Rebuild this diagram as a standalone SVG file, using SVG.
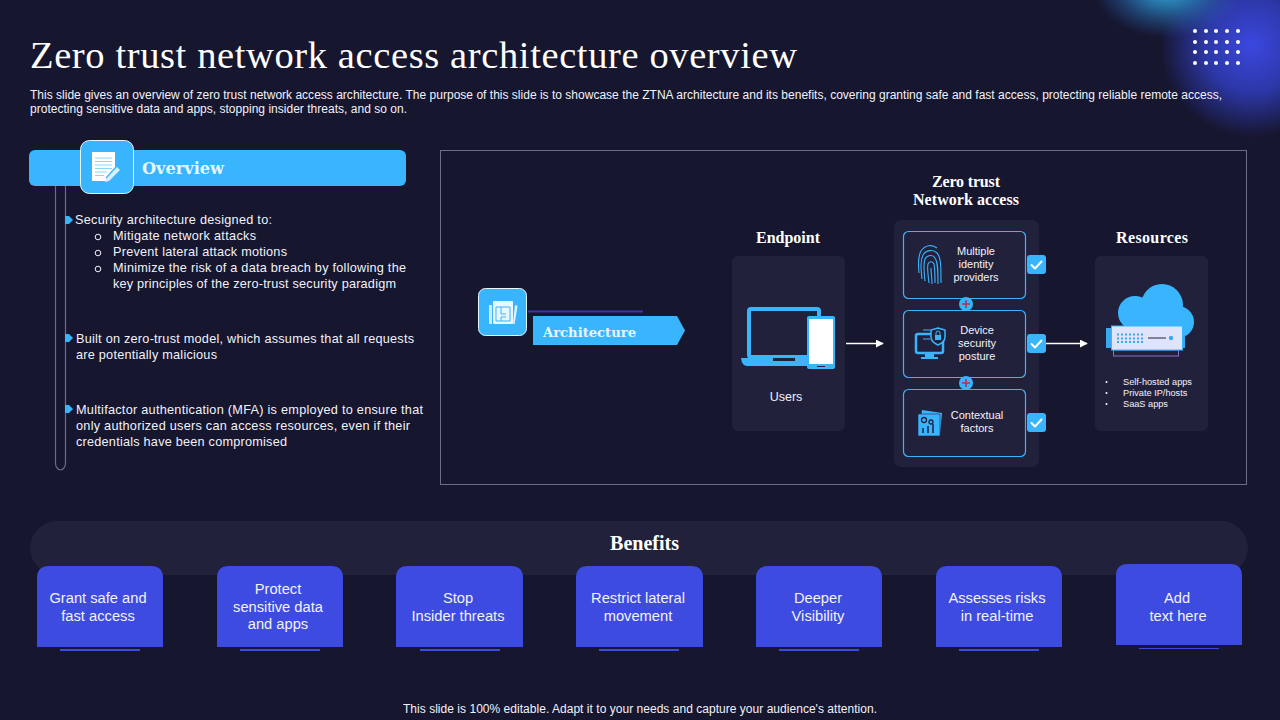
<svg xmlns="http://www.w3.org/2000/svg" width="1280" height="720" viewBox="0 0 1280 720">
<style>
text{font-family:"Liberation Sans",Arial,sans-serif;fill:#f2f2fa}
.serif{font-family:"Liberation Serif","Noto Serif",serif}
.dv{font-family:"DejaVu Serif",serif;font-weight:700}
.h{font-family:"Liberation Serif",serif;font-weight:700;font-size:16px;text-anchor:middle;fill:#fff}
.b{font-size:12.7px}
.m{font-size:11px;text-anchor:middle}
.s{font-size:9.2px}
.ben{font-size:14.7px;text-anchor:middle}
.panel{fill:#22213c}
.inner{fill:#22213c;stroke:#3cb4fb;stroke-width:1.2}
.blue{fill:#39b5fe}
.card{fill:#3e4be0}
.ul{fill:#3e4be0}
.wh{fill:#fff}
.dot{fill:#fff}
.ln{stroke:#fff;stroke-width:1.3;fill:none}
.ck{fill:none;stroke:#fff;stroke-width:2;stroke-linecap:round;stroke-linejoin:round}
</style>
<defs>
<radialGradient id="g1"><stop offset="0" stop-color="#3b48e0"/><stop offset=".5" stop-color="#3340c8" stop-opacity=".8"/><stop offset="1" stop-color="#3340c8" stop-opacity="0"/></radialGradient>
<radialGradient id="g2"><stop offset="0" stop-color="#34b4e8"/><stop offset=".4" stop-color="#2a86c0" stop-opacity=".75"/><stop offset="1" stop-color="#2a5cb0" stop-opacity="0"/></radialGradient>
<marker id="arr" viewBox="0 0 10 10" refX="9" refY="5" markerWidth="8" markerHeight="8" markerUnits="userSpaceOnUse" orient="auto"><path d="M0 0L10 5L0 10z" fill="#fff"/></marker>
<g id="check"><rect x="-9.500" y="-9.500" width="19" height="19" rx="3" class="blue"/><path class="ck" d="M-5 0.500L-1.500 4L5 -3"/></g>
<g id="plus"><circle r="7" class="blue"/><path d="M-4 0H4M0 -4V4" stroke="#b8304f" stroke-width="1.600"/></g>
</defs>
<rect width="1280" height="720" fill="#16162f"/>
<g id="glow">
<ellipse cx="1252" cy="45" rx="92" ry="92" fill="url(#g1)"/>
<ellipse cx="1168" cy="-12" rx="75" ry="50" fill="url(#g2)"/>
</g>
<g id="dots" class="dot">
<circle cx="1195" cy="31" r="2"/><circle cx="1206" cy="31" r="2"/><circle cx="1216" cy="31" r="2"/><circle cx="1227" cy="31" r="2"/><circle cx="1238" cy="31" r="2"/>
<circle cx="1195" cy="42" r="2"/><circle cx="1206" cy="42" r="2"/><circle cx="1216" cy="42" r="2"/><circle cx="1227" cy="42" r="2"/><circle cx="1238" cy="42" r="2"/>
<circle cx="1195" cy="52" r="2"/><circle cx="1206" cy="52" r="2"/><circle cx="1216" cy="52" r="2"/><circle cx="1227" cy="52" r="2"/><circle cx="1238" cy="52" r="2"/>
<circle cx="1195" cy="63" r="2"/><circle cx="1206" cy="63" r="2"/><circle cx="1216" cy="63" r="2"/><circle cx="1227" cy="63" r="2"/><circle cx="1238" cy="63" r="2"/>
</g>
<g id="title">
<text class="serif" x="30" y="68" font-size="38.500" textLength="767" lengthAdjust="spacing" style="fill:#fff">Zero trust network access architecture overview</text>
<text x="30" y="99" font-size="12" textLength="1192" lengthAdjust="spacing">This slide gives an overview of zero trust network access architecture. The purpose of this slide is to showcase the ZTNA architecture and its benefits, covering granting safe and fast access, protecting reliable remote access,</text>
<text x="30" y="113" font-size="12" textLength="377" lengthAdjust="spacing">protecting sensitive data and apps, stopping insider threats, and so on.</text>
</g>
<g id="overview">
<path d="M55.500 180V463a5 7 0 0 0 5 7h0a5 7 0 0 0 5-7V180" fill="none" stroke="#6c6c86" stroke-width="1.200"/>
<rect x="29" y="150" width="377" height="36" rx="6" class="blue"/>
<rect x="80.500" y="140.500" width="53" height="53" rx="9" class="blue" stroke="#e8f6ff" stroke-width="1"/>
<path class="wh" d="M92 152h23v15l-9 10v4H92z"/>
<path d="M95 158h17M95 161.500h17M95 165h17M95 168.500h17M95 172h12M95 175.500h9" stroke="#8fd3fb" stroke-width="1"/>
<path d="M106 179l11-12 3 3-11 11-4 1z" fill="#d6f0ff"/>
<text class="dv" x="142" y="174" font-size="16.500" textLength="82" lengthAdjust="spacingAndGlyphs" style="fill:#e8f6ff">Overview</text>
<g class="blue"><path d="M65 216h4l4 4-4 4h-4z"/><path d="M65 334h4l4 4-4 4h-4z"/><path d="M65 405h4l4 4-4 4h-4z"/></g>
<text class="b" x="75" y="224" textLength="197">Security architecture designed to:</text>
<circle cx="98" cy="237" r="2.800" fill="none" stroke="#f2f2fa" stroke-width="1"/>
<circle cx="98" cy="253" r="2.800" fill="none" stroke="#f2f2fa" stroke-width="1"/>
<circle cx="98" cy="269" r="2.800" fill="none" stroke="#f2f2fa" stroke-width="1"/>
<text class="b" x="113" y="240" textLength="143">Mitigate network attacks</text>
<text class="b" x="113" y="256" textLength="174">Prevent lateral attack motions</text>
<text class="b" x="113" y="272" textLength="293">Minimize the risk of a data breach by following the</text>
<text class="b" x="113" y="288" textLength="283">key principles of the zero-trust security paradigm</text>
<text class="b" x="76" y="343" textLength="338">Built on zero-trust model, which assumes that all requests</text>
<text class="b" x="76" y="359" textLength="141">are potentially malicious</text>
<text class="b" x="76" y="414" textLength="347">Multifactor authentication (MFA) is employed to ensure that</text>
<text class="b" x="76" y="430" textLength="334">only authorized users can access resources, even if their</text>
<text class="b" x="76" y="446" textLength="211">credentials have been compromised</text>
</g>
<rect id="frame" x="440.500" y="150.500" width="806" height="334" fill="none" stroke="#6c6c86" stroke-width="1"/>
<g id="architecture">
<rect x="478.500" y="288.500" width="48" height="47" rx="7" class="blue" stroke="#e8f6ff" stroke-width="1"/>
<rect x="493" y="301" width="20" height="23" rx="1" fill="#eaf6ff"/>
<path d="M496 307h14v14h-14zM501 307v7h5M501 321v-4h5" fill="none" stroke="#39b5fe" stroke-width="1"/>
<path d="M489 305h3v19h-3z" fill="#cfeaff"/>
<path d="M515 305l2.500 1-3 18h-1.500z" fill="#eaf6ff"/>
<rect x="528" y="310.500" width="115" height="2" fill="#3a35b0"/>
<path d="M533 316H677L685 330.500L677 345H533z" class="blue"/>
<text class="dv" x="543" y="337" font-size="13.500" textLength="93" lengthAdjust="spacingAndGlyphs" style="fill:#e8f6ff">Architecture</text>
</g>
<g id="endpoint">
<text class="h" x="788" y="242.500" textLength="64">Endpoint</text>
<rect x="732" y="256" width="113" height="175" rx="6" class="panel"/>
<rect x="749" y="309" width="70" height="48" rx="2" fill="#22213c" stroke="#39b5fe" stroke-width="4"/>
<path d="M741 358H816V366H747q-5 0-6-8z" class="blue"/>
<rect x="773" y="358" width="22" height="3" fill="#22213c"/>
<rect x="807" y="316" width="28" height="53" rx="2" class="blue"/>
<rect x="809" y="319" width="24" height="45" fill="#fff"/>
<rect x="817" y="366" width="8" height="1" fill="#22213c"/>
<text x="786" y="401" font-size="12.500" text-anchor="middle">Users</text>
</g>
<g id="ztna">
<text class="h" x="966" y="186.500" textLength="68">Zero trust</text>
<text class="h" x="966" y="204.500" textLength="106">Network access</text>
<rect x="894" y="220" width="145" height="247" rx="7" class="panel"/>
<g id="idp">
<rect x="903.500" y="231.500" width="122" height="67" rx="5" class="inner"/>
<g fill="none" stroke="#39b5fe" stroke-width="1.100"><path d="M919 273c-1-10-1-17 2-22 4-6 11-7 16-3"/><path d="M922 279c-1-10-2-18 1-24 3-5 10-6 14-2 4 4 4 14 4 30"/><path d="M925 281c-1-9-2-17 0-22 2-4 8-5 10-1 3 4 3 14 3 26"/><path d="M929 283c-1-8-2-15-1-19 1-3 5-3 6 0 1 5 1 12 1 19"/><path d="M932 284c0-6-1-11-1-16"/></g>
<text class="m" x="976" y="255">Multiple</text><text class="m" x="976" y="268">identity</text><text class="m" x="976" y="281">providers</text>
</g>
<g id="posture">
<rect x="903.500" y="310.500" width="122" height="67" rx="5" class="inner"/>
<rect x="916" y="334" width="27" height="19" rx="2" fill="#22213c" stroke="#39b5fe" stroke-width="2.500"/>
<path d="M925 354h9v3h4v2h-17v-2h4z" class="blue"/>
<path d="M923 330h7M923 339h7" stroke="#39b5fe" stroke-width="1" fill="none"/>
<path d="M938 328l7 2v7q0 5-7 8q-7-3-7-8v-7z" fill="#22213c" stroke="#39b5fe" stroke-width="1.500"/>
<rect x="935" y="335" width="6" height="5" class="blue"/>
<path d="M936 335v-2a2 2 0 0 1 4 0v2" fill="none" stroke="#39b5fe" stroke-width="1"/>
<text class="m" x="977" y="334">Device</text><text class="m" x="977" y="347">security</text><text class="m" x="977" y="360">posture</text>
</g>
<g id="context">
<rect x="903.500" y="389.500" width="122" height="67" rx="5" class="inner"/>
<path d="M922 410l20 3-2 22h-21z" class="blue"/>
<path d="M918 414l22 0 0 22h-22z" class="blue" stroke="#22213c" stroke-width=".6"/>
<circle cx="924" cy="420" r="2.500" fill="none" stroke="#22213c" stroke-width="1.300"/><circle cx="931" cy="422" r="2" fill="none" stroke="#22213c" stroke-width="1.300"/>
<path d="M923 433v-5M928 433v-7M933 433v-9" stroke="#22213c" stroke-width="1.500" fill="none"/>
<text class="m" x="977" y="419">Contextual</text><text class="m" x="977" y="432">factors</text>
</g>
<use href="#plus" x="966" y="304"/><use href="#plus" x="966" y="383"/>
<use href="#check" x="1036.500" y="264.500"/><use href="#check" x="1036.500" y="343.500"/><use href="#check" x="1036.500" y="422.500"/>
</g>
<g id="resources">
<text class="h" x="1152" y="242.500" textLength="72">Resources</text>
<rect x="1095" y="256" width="113" height="175" rx="6" class="panel"/>
<g class="blue"><circle cx="1135" cy="313" r="17"/><circle cx="1162" cy="305" r="21"/><circle cx="1178" cy="322" r="16"/><rect x="1125" y="312" width="50" height="26"/></g>
<rect x="1106" y="328" width="6" height="20" fill="#39a8ee"/>
<rect x="1182" y="335" width="3" height="13" fill="#39a8ee"/>
<rect x="1113.500" y="350" width="65" height="6" fill="#22213c" stroke="#8b6cc4" stroke-width="1"/>
<rect x="1111.500" y="326" width="71" height="24" fill="#dfe4fb" stroke="#39b5fe" stroke-width="1"/>
<path d="M1117 334.500h28M1117 338.500h28M1117 342h28" stroke="#39a8ee" stroke-width="2" stroke-dasharray="2 2"/>
<path d="M1148 338h18" stroke="#22213c" stroke-width="1"/>
<circle cx="1171" cy="338" r="2.200" fill="#39a8ee"/>
<g class="dot"><circle cx="1106.500" cy="382" r="1"/><circle cx="1106.500" cy="393" r="1"/><circle cx="1106.500" cy="404" r="1"/></g>
<text class="s" x="1123" y="385">Self-hosted apps</text>
<text class="s" x="1123" y="396">Private IP/hosts</text>
<text class="s" x="1123" y="407">SaaS apps</text>
</g>
<g id="connectors">
<path class="ln" d="M846 343.500H883" marker-end="url(#arr)"/>
<path class="ln" d="M1046 343.500H1087" marker-end="url(#arr)"/>
</g>
<g id="benefits">
<rect x="30" y="521" width="1218" height="54" rx="27" class="panel"/>
<text class="serif" x="644.500" y="550" font-size="20" font-weight="700" text-anchor="middle" style="fill:#fff">Benefits</text>
</g>
<g id="b1"><path d="M37 647V578q0-12 12-12H151q12 0 12 12V647z" class="card"/><rect class="ul" x="60" y="649" width="80" height="2"/><text class="ben" x="98" y="603">Grant safe and</text><text class="ben" x="98" y="621">fast access</text></g>
<g id="b2"><path d="M217 647V578q0-12 12-12H331q12 0 12 12V647z" class="card"/><rect class="ul" x="240" y="649" width="80" height="2"/><text class="ben" x="278" y="594">Protect</text><text class="ben" x="278" y="612">sensitive data</text><text class="ben" x="278" y="629">and apps</text></g>
<g id="b3"><path d="M396 647V578q0-12 12-12H511q12 0 12 12V647z" class="card"/><rect class="ul" x="420" y="649" width="80" height="2"/><text class="ben" x="458" y="603">Stop</text><text class="ben" x="458" y="621">Insider threats</text></g>
<g id="b4"><path d="M576 647V578q0-12 12-12H691q12 0 12 12V647z" class="card"/><rect class="ul" x="599" y="649" width="80" height="2"/><text class="ben" x="638" y="603">Restrict lateral</text><text class="ben" x="638" y="621">movement</text></g>
<g id="b5"><path d="M756 647V578q0-12 12-12H870q12 0 12 12V647z" class="card"/><rect class="ul" x="779" y="649" width="80" height="2"/><text class="ben" x="818" y="603">Deeper</text><text class="ben" x="818" y="621">Visibility</text></g>
<g id="b6"><path d="M936 647V578q0-12 12-12H1050q12 0 12 12V647z" class="card"/><rect class="ul" x="959" y="649" width="80" height="2"/><text class="ben" x="997" y="603">Assesses risks</text><text class="ben" x="997" y="621">in real-time</text></g>
<g id="b7"><path d="M1116 645V576q0-12 12-12H1230q12 0 12 12V645z" class="card"/><rect class="ul" x="1139" y="648" width="80" height="1"/><text class="ben" x="1177" y="603">Add</text><text class="ben" x="1178" y="621">text here</text></g>
<text id="footer" x="640" y="713" font-size="12" text-anchor="middle" textLength="474">This slide is 100% editable. Adapt it to your needs and capture your audience's attention.</text>
</svg>
